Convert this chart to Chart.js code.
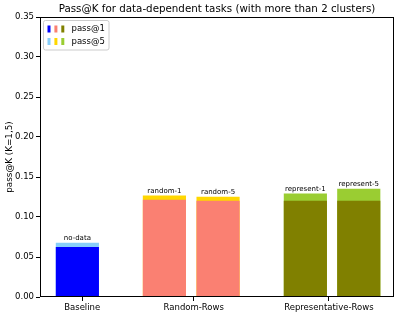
<!DOCTYPE html>
<html>
<head>
<meta charset="utf-8">
<script src="https://cdn.jsdelivr.net/npm/chart.js@4/dist/chart.umd.min.js"></script>
<style>
  html, body { margin: 0; padding: 0; background: #fff; }
  #wrap { width: 399px; height: 315px; }
</style>
</head>
<body>
<div id="wrap"><canvas id="chart"></canvas></div>
<script>
// Data
const groups = ['Baseline', 'Random-Rows', 'Representative-Rows'];
const groupTicks = [0.09, 2.18, 4.71];
const barLabels = ['no-data', 'random-1', 'random-5', 'represent-1', 'represent-5'];
const barPos = [0, 1.63, 2.635, 4.27, 5.27];
const pass1 = [0.062, 0.121, 0.120, 0.120, 0.120];
const pass5 = [0.0675, 0.1265, 0.125, 0.129, 0.135];
const pass1Colors = ['#0000ff', '#fa8072', '#fa8072', '#808000', '#808000'];
const pass5Colors = ['#87cefa', '#ffd700', '#ffd700', '#9acd32', '#9acd32'];
const yTicks = [0, 0.05, 0.10, 0.15, 0.20, 0.25, 0.30, 0.35];

const FONT = 'DejaVu Sans';

// Title, frame, bar labels and legend
const extras = {
  id: 'extras',
  afterDraw(chart) {
    const ctx = chart.ctx;
    const a = chart.chartArea;
    const x = chart.scales.x, y = chart.scales.y;
    ctx.save();

    // frame
    ctx.strokeStyle = '#000';
    ctx.lineWidth = 1;
    ctx.strokeRect(Math.round(a.left) + 0.5, Math.round(a.top) + 0.5,
      Math.round(a.right - a.left) - 1, Math.round(a.bottom - a.top) - 1);

    // title
    ctx.fillStyle = '#000';
    ctx.font = '10.3px "' + FONT + '"';
    ctx.textAlign = 'center';
    ctx.textBaseline = 'middle';
    ctx.fillText('Pass@K for data-dependent tasks (with more than 2 clusters)', (a.left + a.right) / 2, 9);

    // bar labels
    ctx.font = '7px "' + FONT + '"';
    ctx.textBaseline = 'bottom';
    barLabels.forEach((t, i) => {
      ctx.fillText(t, x.getPixelForValue(barPos[i]), y.getPixelForValue(Math.max(pass1[i], pass5[i])) - 1);
    });

    // legend
    const lx = a.left + 3.5, ly = a.top + 3.5, lw = 65.5, lh = 29.5;
    ctx.beginPath();
    ctx.roundRect(lx, ly, lw, lh, 2);
    ctx.fillStyle = 'rgba(255,255,255,0.8)';
    ctx.fill();
    ctx.strokeStyle = '#cccccc';
    ctx.stroke();
    const rows = [
      { label: 'pass@1', colors: [pass1Colors[0], pass1Colors[1], pass1Colors[3]], cy: ly + 8.5 },
      { label: 'pass@5', colors: [pass5Colors[0], pass5Colors[1], pass5Colors[3]], cy: ly + 21 }
    ];
    ctx.font = '8.5px "' + FONT + '"';
    ctx.textAlign = 'left';
    ctx.textBaseline = 'middle';
    rows.forEach(r => {
      r.colors.forEach((c, j) => {
        ctx.fillStyle = c;
        ctx.fillRect(lx + 4 + j * 6.9, r.cy - 3.5, 3, 7);
      });
      ctx.fillStyle = '#000';
      ctx.fillText(r.label, lx + 28, r.cy);
    });
    ctx.restore();
  }
};

new Chart(document.getElementById('chart'), {
  type: 'bar',
  data: {
    datasets: [
      {
        label: 'pass@1',
        data: barPos.map((p, i) => ({ x: p, y: pass1[i] })),
        backgroundColor: pass1Colors,
        grouped: false,
        barThickness: 42.5
      },
      {
        label: 'pass@5',
        data: barPos.map((p, i) => ({ x: p, y: pass5[i] })),
        backgroundColor: pass5Colors,
        grouped: false,
        barThickness: 42.5
      }
    ]
  },
  options: {
    responsive: true,
    maintainAspectRatio: false,
    animation: false,
    layout: { padding: { left: 0, right: 5, top: 17, bottom: 0 } },
    plugins: {
      legend: { display: false },
      title: { display: false },
      tooltip: { enabled: false }
    },
    scales: {
      x: {
        type: 'linear',
        offset: false,
        min: -0.70,
        max: 5.93,
        afterBuildTicks: s => { s.ticks = groupTicks.map(v => ({ value: v })); },
        afterFit: s => { s.height = 18; },
        grid: { display: true, offset: false, drawOnChartArea: false, drawTicks: true, tickLength: 4, color: '#000' },
        border: { display: false },
        ticks: {
          autoSkip: false,
          maxRotation: 0,
          padding: 2,
          color: '#000',
          font: { family: FONT, size: 8.5 },
          callback: (v, i) => groups[i]
        }
      },
      y: {
        min: 0,
        max: 0.35,
        afterBuildTicks: s => { s.ticks = yTicks.map(v => ({ value: v })); },
        afterFit: s => { s.width = 40; },
        grid: { display: true, drawOnChartArea: false, drawTicks: true, tickLength: 4, color: '#000' },
        border: { display: false },
        title: {
          display: true,
          text: 'pass@K (K=1,5)',
          color: '#000',
          font: { family: FONT, size: 8.8 },
          padding: { top: 4, bottom: 0 }
        },
        ticks: {
          padding: 2,
          color: '#000',
          font: { family: FONT, size: 8.5 },
          callback: v => v.toFixed(2)
        }
      }
    }
  },
  plugins: [extras]
});
</script>
</body>
</html>
